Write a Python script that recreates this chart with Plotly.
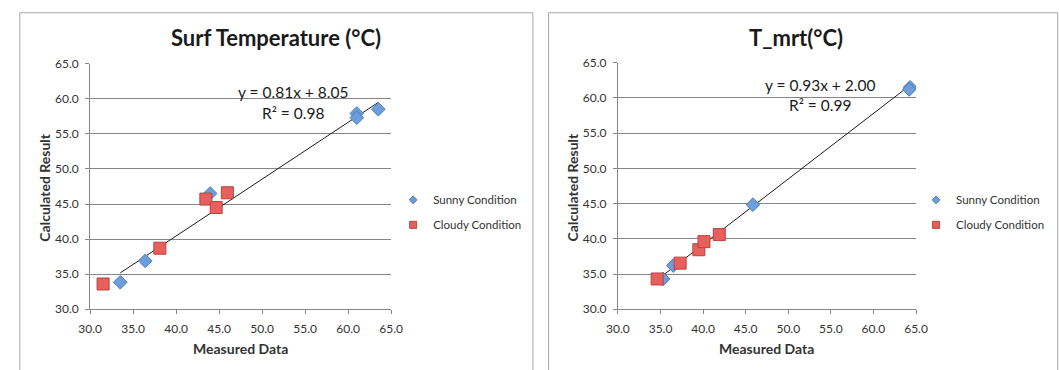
import plotly.graph_objects as go

W, H = 1059, 370

# ---------------- data ----------------
surf_sunny_x = [33.5, 36.4, 43.95, 61.0, 61.0, 63.5]
surf_sunny_y = [33.85, 36.9, 46.5, 57.9, 57.3, 58.5]
surf_cloudy_x = [31.5, 38.1, 43.45, 44.65, 45.95]
surf_cloudy_y = [33.6, 38.7, 45.7, 44.5, 46.6]
surf_fit = {"slope": 0.81, "intercept": 8.05, "r2": 0.98}

mrt_sunny_x = [35.3, 36.5, 45.85, 64.3, 64.2]
mrt_sunny_y = [34.3, 36.2, 44.85, 61.5, 61.2]
mrt_cloudy_x = [34.6, 37.3, 39.5, 40.1, 41.9]
mrt_cloudy_y = [34.3, 36.55, 38.45, 39.6, 40.6]
mrt_fit = {"slope": 0.93, "intercept": 2.00, "r2": 0.99}

tick_vals = [30, 35, 40, 45, 50, 55, 60, 65]
titles = ["Surf Temperature (°C)", "T_mrt(°C)"]
x_title = "Measured Data"
y_title = "Calculated Result"
series_names = ["Sunny Condition", "Cloudy Condition"]

# ---------------- styles ----------------
FONT = "Lato, 'Open Sans', sans-serif"
AX = "#868686"
TXT = "#333333"
SUNNY_FILL, SUNNY_LINE = "#6F9DDC", "#4A7EBB"
CLOUDY_FILL, CLOUDY_LINE = "#E8605E", "#B8423F"


def px_x(p):
    return p / W


def px_y(p):
    return 1 - p / H


fig = go.Figure()

charts = [
    dict(sx=surf_sunny_x, sy=surf_sunny_y, cx=surf_cloudy_x, cy=surf_cloudy_y, fit=surf_fit,
         xa="x", ya="y", legend="legend"),
    dict(sx=mrt_sunny_x, sy=mrt_sunny_y, cx=mrt_cloudy_x, cy=mrt_cloudy_y, fit=mrt_fit,
         xa="x2", ya="y2", legend="legend2"),
]

for c in charts:
    lo, hi = min(c["sx"]), max(c["sx"])
    fx = [lo, hi]
    fy = [c["fit"]["slope"] * v + c["fit"]["intercept"] for v in fx]
    fig.add_trace(go.Scatter(x=fx, y=fy, mode="lines", line=dict(color="#1a1a1a", width=1),
                             showlegend=False, hoverinfo="skip", xaxis=c["xa"], yaxis=c["ya"]))
    fig.add_trace(go.Scatter(x=c["sx"], y=c["sy"], mode="markers", name=series_names[0],
                             marker=dict(symbol="diamond", size=10.5, color=SUNNY_FILL,
                                         line=dict(color=SUNNY_LINE, width=1)),
                             showlegend=False, xaxis=c["xa"], yaxis=c["ya"]))
    fig.add_trace(go.Scatter(x=c["cx"], y=c["cy"], mode="markers", name=series_names[1],
                             marker=dict(symbol="square", size=12, color=CLOUDY_FILL,
                                         line=dict(color=CLOUDY_LINE, width=1)),
                             showlegend=False, xaxis=c["xa"], yaxis=c["ya"]))
    fig.add_trace(go.Scatter(x=[None], y=[None], mode="markers", name=series_names[0],
                             marker=dict(symbol="diamond", size=6, color=SUNNY_FILL,
                                         line=dict(color=SUNNY_LINE, width=1)),
                             legend=c["legend"], legendgroup="a", xaxis=c["xa"], yaxis=c["ya"]))
    fig.add_trace(go.Scatter(x=[None], y=[None], mode="markers", name=series_names[1],
                             marker=dict(symbol="square", size=7, color=CLOUDY_FILL,
                                         line=dict(color=CLOUDY_LINE, width=1)),
                             legend=c["legend"], legendgroup="b", xaxis=c["xa"], yaxis=c["ya"]))

axis_common = dict(range=[30, 65], tickvals=tick_vals, tickformat=".1f",
                   showline=True, linecolor=AX, linewidth=1, ticks="outside", ticklen=4,
                   tickcolor=AX, tickfont=dict(family=FONT, size=12, color=TXT),
                   ticklabelstandoff=4, zeroline=False, fixedrange=True)

fig.update_layout(
    width=W, height=H, margin=dict(l=0, r=0, t=0, b=0),
    paper_bgcolor="white", plot_bgcolor="white",
    font=dict(family=FONT, color=TXT),
    xaxis=dict(domain=[px_x(80), px_x(388)], anchor="y", showgrid=False, **axis_common),
    yaxis=dict(domain=[px_y(314), px_y(58)], anchor="x", showgrid=True, gridcolor=AX,
               gridwidth=1, **axis_common),
    xaxis2=dict(domain=[px_x(620), px_x(925)], anchor="y2", showgrid=False, **axis_common),
    yaxis2=dict(domain=[px_y(314), px_y(57)], anchor="x2", showgrid=True, gridcolor=AX,
                gridwidth=1, **axis_common),
    legend=dict(x=px_x(390), y=px_y(213), xanchor="left", yanchor="middle",
                font=dict(family=FONT, size=11.5, color=TXT), tracegroupgap=6,
                bgcolor="rgba(0,0,0,0)"),
    legend2=dict(x=px_x(925), y=px_y(213), xanchor="left", yanchor="middle",
                 font=dict(family=FONT, size=11.5, color=TXT), tracegroupgap=6,
                 bgcolor="rgba(0,0,0,0)"),
    showlegend=True,
)

fig.add_shape(type="rect", xref="paper", yref="paper", x0=px_x(8), x1=px_x(533),
              y0=px_y(380), y1=px_y(5), line=dict(color="#A6A6A6", width=1))
fig.add_shape(type="rect", xref="paper", yref="paper", x0=px_x(549), x1=px_x(1070),
              y0=px_y(380), y1=px_y(5), line=dict(color="#A6A6A6", width=1))

ann = []
for t, cx in zip(titles, [270, 802]):
    ann.append(dict(text=f"<b>{t}</b>", x=px_x(cx), y=px_y(31), xref="paper", yref="paper",
                    showarrow=False, font=dict(family=FONT, size=22, color="#1a1a1a"),
                    xanchor="center", yanchor="middle"))
for cx in [234, 772]:
    ann.append(dict(text=f"<b>{x_title}</b>", x=px_x(cx), y=px_y(355), xref="paper", yref="paper",
                    showarrow=False, font=dict(family=FONT, size=14, color=TXT),
                    xanchor="center", yanchor="middle"))
for cx in [33, 573]:
    ann.append(dict(text=f"<b>{y_title}</b>", x=px_x(cx), y=px_y(187), xref="paper", yref="paper",
                    showarrow=False, textangle=-90, font=dict(family=FONT, size=14, color=TXT),
                    xanchor="center", yanchor="middle"))
for fit, cx, y1, y2 in [(surf_fit, 288, 88, 109.5), (mrt_fit, 827, 80, 101.5)]:
    ann.append(dict(text=f"y = {fit['slope']:.2f}x + {fit['intercept']:.2f}", x=px_x(cx), y=px_y(y1),
                    xref="paper", yref="paper", showarrow=False,
                    font=dict(family=FONT, size=15.5, color="#1a1a1a"), xanchor="center", yanchor="middle"))
    ann.append(dict(text=f"R² = {fit['r2']:.2f}", x=px_x(cx), y=px_y(y2),
                    xref="paper", yref="paper", showarrow=False,
                    font=dict(family=FONT, size=15.5, color="#1a1a1a"), xanchor="center", yanchor="middle"))
fig.update_layout(annotations=ann)

fig.write_html("out.html", config={"displayModeBar": False, "staticPlot": True},
               post_script="document.body.style.margin='0';document.body.style.overflow='hidden';")
